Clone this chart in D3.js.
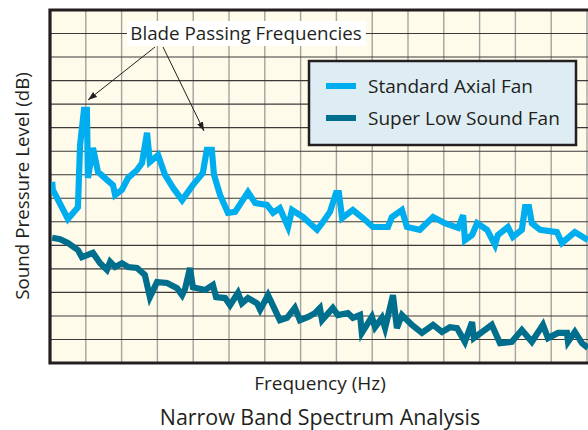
<!DOCTYPE html>
<html>
<head>
<meta charset="utf-8">
<script src="https://cdn.jsdelivr.net/npm/d3@7"></script>
<style>
  body { margin: 0; background: #fff; }
  svg { display: block; font-family: "Open Sans", "Noto Sans", sans-serif; }
</style>
</head>
<body>
<svg width="588" height="430"></svg>
<script>
// frequency (Hz) and level (dB)
const standardHz = [6, 8, 50, 78, 84, 95, 103, 106, 120, 134, 159, 176, 182, 201, 218, 243, 257, 271, 279, 302,
  321, 344, 369, 399, 427, 438, 452, 458, 475, 497, 517, 553, 573, 606, 623, 642, 665, 676, 707, 746,
  760, 782, 799, 807, 816, 846, 874, 902, 944, 955, 983, 997, 1033, 1070, 1103, 1140, 1154, 1159, 1179, 1193,
  1221, 1243, 1251, 1279, 1293, 1318, 1327, 1338, 1346, 1369, 1416, 1430, 1466, 1503];
const standardDb = [58.5, 56.8, 50.6, 53.1, 66.3, 73.8, 73.8, 59.3, 65.7, 60.6, 58.9, 57.8, 55.7, 56.8, 59.3, 61.0, 62.5, 68.9, 62.7, 64.2,
  60.0, 57.2, 54.6, 57.8, 60.4, 65.3, 65.3, 60.0, 55.7, 51.9, 52.1, 56.3, 54.0, 53.6, 51.9, 52.9, 48.9, 52.5, 51.0, 48.3,
  49.7, 52.1, 56.1, 56.1, 50.8, 52.5, 50.8, 48.9, 48.9, 51.0, 52.5, 48.9, 48.3, 51.0, 49.7, 48.7, 51.4, 46.1, 47.2, 49.7,
  48.3, 45.1, 47.2, 48.9, 46.8, 48.3, 53.1, 53.1, 49.7, 48.3, 47.8, 45.5, 47.8, 46.1];

const lowHz = [6, 28, 50, 78, 89, 120, 140, 159, 168, 182, 201, 218, 243, 265, 279, 299, 327, 355, 369, 377,
  391, 399, 433, 455, 464, 489, 503, 525, 536, 553, 578, 587, 609, 642, 662, 684, 698, 721, 740, 754,
  760, 790, 804, 832, 846, 866, 871, 899, 908, 927, 936, 958, 969, 983, 1011, 1039, 1070, 1095, 1117, 1137,
  1159, 1179, 1184, 1207, 1234, 1257, 1290, 1318, 1346, 1377, 1391, 1419, 1444, 1447, 1466, 1486, 1503];
const lowDb = [46.6, 46.3, 45.5, 44.0, 42.5, 43.4, 41.2, 39.8, 41.5, 40.4, 41.2, 40.4, 40.2, 38.7, 34.0, 37.2, 37.0, 35.9, 34.4, 35.7,
  40.2, 36.1, 35.5, 36.6, 34.0, 33.8, 32.3, 34.9, 32.7, 33.8, 32.7, 31.3, 34.4, 29.1, 29.6, 31.7, 29.1, 29.8, 30.6, 31.7,
  29.1, 31.7, 30.2, 30.6, 29.6, 30.2, 26.4, 29.8, 27.6, 29.6, 27.4, 34.4, 27.4, 30.2, 28.1, 26.4, 28.1, 26.6, 27.6, 27.4,
  24.5, 28.7, 25.3, 26.6, 28.1, 24.2, 24.5, 27.0, 24.5, 28.1, 25.3, 26.4, 26.4, 24.5, 26.6, 24.2, 23.2];

const seriesNames = ["Standard Axial Fan", "Super Low Sound Fan"];
const seriesColors = ["#00aeef", "#006f8e"];
const xTicks = d3.range(0, 1601, 100);
const yTicks = d3.range(20, 96, 5);

const svg = d3.select("svg");
const margin = { left: 50, top: 10, bottom: 363, right: 587 };

const x = d3.scaleLinear().domain([0, 1500]).range([margin.left, margin.right]);
const y = d3.scaleLinear().domain([20, 95]).range([margin.bottom, margin.top]);

// plot background
svg.append("rect")
  .attr("x", margin.left).attr("y", margin.top)
  .attr("width", 600 - margin.left).attr("height", margin.bottom - margin.top)
  .attr("fill", "#fefbea");

// vertical grid (lighter)
svg.append("g")
  .selectAll("line")
  .data(xTicks.slice(1))
  .join("line")
  .attr("x1", d => x(d)).attr("x2", d => x(d))
  .attr("y1", margin.top).attr("y2", margin.bottom + 1)
  .attr("stroke", "#a3a3a0")
  .attr("stroke-width", 1.4);

// horizontal grid (dark)
svg.append("g")
  .selectAll("line")
  .data(yTicks.slice(1, -1))
  .join("line")
  .attr("x1", margin.left).attr("x2", 600)
  .attr("y1", d => y(d)).attr("y2", d => y(d))
  .attr("stroke", "#3b3a38")
  .attr("stroke-width", 1.1);

// frame
svg.append("path")
  .attr("d", `M600,${margin.top}H${margin.left}V${margin.bottom}H600`)
  .attr("fill", "none")
  .attr("stroke", "#231f20")
  .attr("stroke-width", 3.2);

const line = d3.line().x(d => x(d[0])).y(d => y(d[1]));
svg.append("clipPath").attr("id", "clip")
  .append("rect").attr("x", margin.left + 1).attr("y", margin.top)
  .attr("width", 600).attr("height", margin.bottom - margin.top);

const series = [
  d3.zip(standardHz, standardDb),
  d3.zip(lowHz, lowDb)
];

svg.append("g").attr("clip-path", "url(#clip)")
  .selectAll("path")
  .data(series)
  .join("path")
  .attr("d", line)
  .attr("fill", "none")
  .attr("stroke", (d, i) => seriesColors[i])
  .attr("stroke-width", 6.2)
  .attr("stroke-linejoin", "miter")
  .attr("stroke-miterlimit", 4);

// annotation
svg.append("defs").append("marker")
  .attr("id", "arrow")
  .attr("viewBox", "0 0 10 10")
  .attr("refX", 10).attr("refY", 5)
  .attr("markerWidth", 9).attr("markerHeight", 9)
  .attr("orient", "auto")
  .attr("markerUnits", "userSpaceOnUse")
  .append("path").attr("d", "M0,1.5L10,5L0,8.5Z").attr("fill", "#231f20");

svg.append("rect")
  .attr("x", 127).attr("y", 21).attr("width", 239).attr("height", 25)
  .attr("fill", "#fff");
svg.append("text")
  .attr("x", 246).attr("y", 40)
  .attr("text-anchor", "middle")
  .attr("font-size", 18.8)
  .attr("fill", "#231f20")
  .text("Blade Passing Frequencies");

[[155, 47, 88, 100], [163, 47, 204, 131]].forEach(a => {
  svg.append("line")
    .attr("x1", a[0]).attr("y1", a[1]).attr("x2", a[2]).attr("y2", a[3])
    .attr("stroke", "#231f20").attr("stroke-width", 1)
    .attr("marker-end", "url(#arrow)");
});

// legend
const legend = svg.append("g");
legend.append("rect")
  .attr("x", 309).attr("y", 61).attr("width", 267).attr("height", 84)
  .attr("fill", "#deedf3")
  .attr("stroke", "#231f20")
  .attr("stroke-width", 2.5);
seriesNames.forEach((name, i) => {
  const ly = 86 + i * 32;
  legend.append("rect")
    .attr("x", 326).attr("y", ly - 3).attr("width", 30).attr("height", 6)
    .attr("fill", seriesColors[i]);
  legend.append("text")
    .attr("x", 368).attr("y", ly + 6.5)
    .attr("font-size", 19)
    .attr("fill", "#231f20")
    .text(name);
});

// axis titles
svg.append("text")
  .attr("transform", "translate(29,186) rotate(-90)")
  .attr("text-anchor", "middle")
  .attr("font-size", 18.8)
  .attr("fill", "#231f20")
  .text("Sound Pressure Level (dB)");

svg.append("text")
  .attr("x", 320).attr("y", 390)
  .attr("text-anchor", "middle")
  .attr("font-size", 19)
  .attr("fill", "#231f20")
  .text("Frequency (Hz)");

svg.append("text")
  .attr("x", 320).attr("y", 425)
  .attr("text-anchor", "middle")
  .attr("font-size", 21.4)
  .attr("fill", "#231f20")
  .text("Narrow Band Spectrum Analysis");
</script>
</body>
</html>
